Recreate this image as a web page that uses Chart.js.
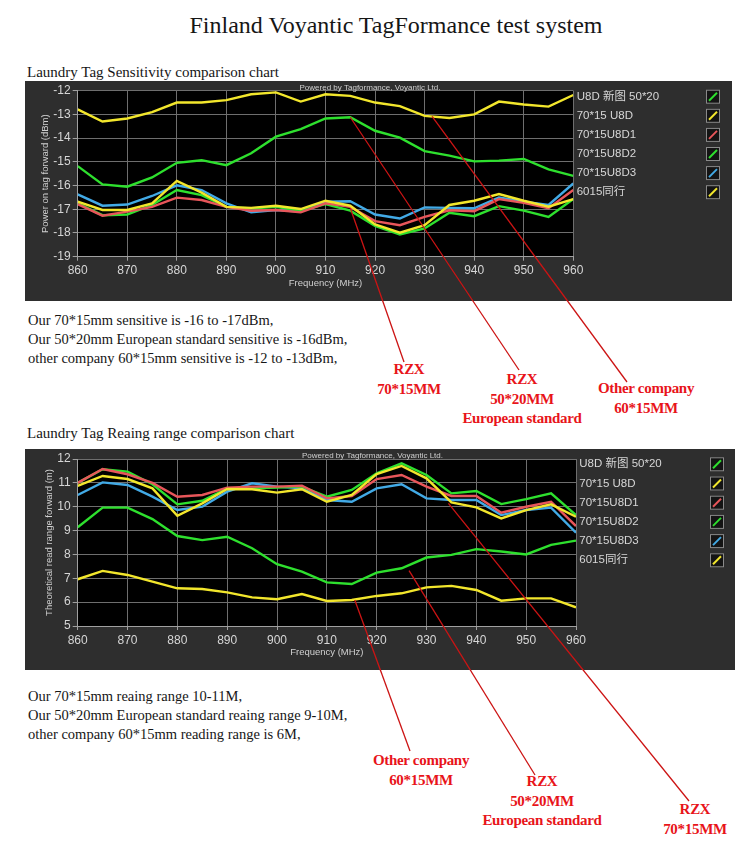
<!DOCTYPE html>
<html><head><meta charset="utf-8">
<script src="https://cdn.jsdelivr.net/npm/chart.js@4"></script>
<style>
body{margin:0;background:#fff;width:750px;height:851px;position:relative;overflow:hidden;}
.t{position:absolute;font-family:'Liberation Serif','DejaVu Serif',serif;color:#161616;white-space:nowrap;}
.r{position:absolute;font-family:'Liberation Serif',serif;font-weight:bold;color:#e8141a;white-space:nowrap;transform:translateX(-50%);text-align:center;font-size:15px;line-height:19.5px;letter-spacing:-0.3px;}
canvas{position:absolute;}
</style></head><body>
<div class="t" style="left:396px;top:11px;font-size:24px;line-height:28px;transform:translateX(-50%);">Finland Voyantic TagFormance test system</div>
<div class="t" style="left:27px;top:63px;font-size:15px;line-height:18px;">Laundry Tag Sensitivity comparison chart</div>
<canvas id="c1" width="707" height="220" style="left:25px;top:81px;background:#2e2e2e;"></canvas>
<div class="t" style="left:28px;top:310.5px;font-size:14.5px;line-height:19px;">Our 70*15mm sensitive is -16 to -17dBm,<br>Our 50*20mm European standard sensitive is -16dBm,<br>other company 60*15mm sensitive is -12 to -13dBm,</div>
<div class="t" style="left:27px;top:424px;font-size:15px;line-height:18px;">Laundry Tag Reaing range comparison chart</div>
<canvas id="c2" width="710" height="221" style="left:25px;top:449px;background:#2e2e2e;"></canvas>
<div class="t" style="left:28px;top:686.5px;font-size:14.5px;line-height:19px;">Our 70*15mm reaing range 10-11M,<br>Our 50*20mm European standard reaing range 9-10M,<br>other company 60*15mm reading range is 6M,</div>

<div class="r" style="left:409px;top:360px;">RZX<br>70*15MM</div>
<div class="r" style="left:522px;top:370px;">RZX<br>50*20MM<br>European standard</div>
<div class="r" style="left:646px;top:379px;">Other company<br>60*15MM</div>
<div class="r" style="left:421px;top:751px;">Other company<br>60*15MM</div>
<div class="r" style="left:542px;top:772px;">RZX<br>50*20MM<br>European standard</div>
<div class="r" style="left:695px;top:800px;">RZX<br>70*15MM</div>
<canvas id="ov" width="750" height="851" style="left:0;top:0;pointer-events:none;"></canvas>
<script>
// ---- data ----
const freqs = [860,865,870,875,880,885,890,895,900,905,910,915,920,925,930,935,940,945,950,955,960];
const seriesNames = ['U8D 新图 50*20','70*15 U8D','70*15U8D1','70*15U8D2','70*15U8D3','6015同行'];
const seriesColors = ['#2ee02e','#f2e62c','#e8565a','#2ee02e','#42aae6','#f2e62c'];
const xTicks = [860,960,10];

const sens5020 = [-15.18,-15.95,-16.05,-15.66,-15.04,-14.93,-15.14,-14.64,-13.94,-13.62,-13.17,-13.12,-13.69,-13.98,-14.55,-14.74,-14.98,-14.95,-14.88,-15.32,-15.59];
const sensU8D  = [-16.68,-17.03,-17.03,-16.75,-15.8,-16.3,-16.9,-16.94,-16.85,-16.99,-16.64,-16.85,-17.64,-17.99,-17.67,-16.82,-16.64,-16.36,-16.64,-16.89,-16.57];
const sensU8D1 = [-16.78,-17.27,-17.1,-16.9,-16.51,-16.61,-16.9,-17.06,-17.03,-17.13,-16.75,-16.9,-17.5,-17.67,-17.32,-17.04,-17.08,-16.57,-16.73,-16.96,-16.19];
const sensU8D2 = [-16.75,-17.25,-17.22,-16.82,-16.19,-16.4,-16.9,-16.97,-16.9,-17.06,-16.78,-17.06,-17.7,-18.06,-17.81,-17.15,-17.29,-16.87,-17.06,-17.32,-16.57];
const sensU8D3 = [-16.37,-16.85,-16.8,-16.44,-15.99,-16.19,-16.75,-17.13,-17.03,-17.1,-16.68,-16.66,-17.22,-17.39,-16.92,-16.94,-16.96,-16.5,-16.68,-16.82,-15.91];
const sens6015 = [-12.79,-13.3,-13.17,-12.9,-12.5,-12.5,-12.4,-12.15,-12.07,-12.46,-12.15,-12.22,-12.5,-12.65,-13.06,-13.15,-13.0,-12.46,-12.58,-12.67,-12.18];

const range5020 = [9.14,9.96,9.96,9.48,8.77,8.6,8.74,8.26,7.59,7.28,6.83,6.76,7.24,7.42,7.87,7.98,8.22,8.12,8.0,8.4,8.58];
const rangeU8D  = [10.87,11.29,11.16,10.77,9.62,10.14,10.74,10.73,10.59,10.73,10.21,10.49,11.37,11.71,11.19,10.18,9.97,9.51,9.86,10.1,9.58];
const rangeU8D1 = [11.0,11.58,11.36,11.0,10.42,10.49,10.8,10.84,10.84,10.88,10.35,10.45,11.16,11.33,10.84,10.45,10.45,9.75,10.0,10.21,9.19];
const rangeU8D2 = [11.0,11.57,11.47,10.94,10.1,10.25,10.77,10.77,10.8,10.84,10.42,10.7,11.4,11.82,11.33,10.56,10.66,10.11,10.32,10.56,9.65];
const rangeU8D3 = [10.49,11.02,10.91,10.42,9.86,10.0,10.63,10.98,10.84,10.77,10.28,10.21,10.77,10.94,10.35,10.28,10.28,9.65,9.86,9.96,8.91];
const range6015 = [6.96,7.31,7.14,6.86,6.58,6.55,6.41,6.2,6.12,6.34,6.05,6.09,6.26,6.37,6.62,6.68,6.51,6.06,6.16,6.16,5.78];

// annotation anchors in data units [freq, value]
const notesTop = [[915,-16.95],[915,-13.12],[931.5,-13.08]];
const notesBottom = [[915.6,6.09],[926.5,7.32],[934.4,10.14]];

Chart.defaults.font.family = "'Liberation Sans','Noto Sans CJK SC',sans-serif";

const deco = {
  id:'deco',
  beforeDraw(chart){
    const a=chart.chartArea, c=chart.ctx;
    c.save(); c.fillStyle='#000'; c.fillRect(a.left,a.top,a.right-a.left,a.bottom-a.top); c.restore();
  },
  afterDraw(chart){
    const o=chart.options.plugins.deco, c=chart.ctx;
    c.save();
    c.fillStyle='#cfcfcf'; c.font="8px 'Liberation Sans',sans-serif"; c.textAlign='center'; c.textBaseline='middle';
    c.fillText('Powered by Tagformance, Voyantic Ltd.', o.pwx, o.pwy);
    c.font="11.5px 'Liberation Sans','Noto Sans CJK SC',sans-serif"; c.textAlign='left';
    chart.data.datasets.forEach((d,i)=>{
      const y=o.ly+i*o.step;
      c.fillStyle='#d6d6d6'; c.fillText(d.label,o.lx,y);
      c.fillStyle='#141414'; c.fillRect(o.bx,y-7,14,14);
      c.strokeStyle='#8a8a8a'; c.lineWidth=1; c.strokeRect(o.bx+0.5,y-6.5,13,13);
      c.strokeStyle=d.borderColor; c.lineWidth=2; c.beginPath(); c.moveTo(o.bx+3,y+4); c.lineTo(o.bx+11,y-4); c.stroke();
    });
    c.restore();
  }
};

function makeChart(id, series, cfg){
  return new Chart(document.getElementById(id),{
    type:'line',
    data:{datasets:series.map((s,i)=>({label:seriesNames[i],data:freqs.map((f,k)=>({x:f,y:s[k]})),borderColor:seriesColors[i],borderWidth:2.4,pointRadius:0,tension:0,fill:false}))},
    options:{
      responsive:false,animation:false,events:[],
      layout:{padding:{left:0,top:cfg.top,right:cfg.right,bottom:cfg.bottom}},
      plugins:{legend:{display:false},tooltip:{enabled:false},deco:cfg.deco},
      scales:{
        x:{type:'linear',min:xTicks[0],max:xTicks[1],
          ticks:{stepSize:xTicks[2],color:'#d6d6d6',font:{size:12},padding:3,maxRotation:0,autoSkip:false},
          grid:{color:'#6e6e6e',tickLength:4,tickColor:'#a0a0a0'},border:{color:'#a0a0a0'},
          title:{display:true,text:'Frequency (MHz)',color:'#d0d0d0',font:{size:9.5},padding:{top:0,bottom:1}},
          afterFit:s=>{s.height=33;}},
        y:{min:cfg.ymin,max:cfg.ymax,
          ticks:{stepSize:1,color:'#d6d6d6',font:{size:12},padding:2},
          grid:{color:'#6e6e6e',tickLength:5,tickColor:'#a0a0a0'},border:{color:'#a0a0a0'},
          title:{display:true,text:cfg.ytitle,color:'#d0d0d0',font:{size:9.5},padding:{top:cfg.ytp,bottom:0}},
          afterFit:s=>{s.width=52.7;}}
      }
    },
    plugins:[deco]
  });
}

const ch1 = makeChart('c1',[sens5020,sensU8D,sensU8D1,sensU8D2,sensU8D3,sens6015],
  {top:9.7,right:158.7,bottom:11.3,ymin:-19,ymax:-12,ytitle:'Power on tag forward (dBm)',ytp:15,
   deco:{pwx:345,pwy:6.5,lx:551.7,ly:15.7,step:19.1,bx:681}});
const ch2 = makeChart('c2',[range5020,rangeU8D,rangeU8D1,rangeU8D2,rangeU8D3,range6015],
  {top:10,right:159,bottom:11,ymin:5,ymax:12,ytitle:'Theoretical read range forward (m)',ytp:19,
   deco:{pwx:347.5,pwy:6.7,lx:554.3,ly:15.3,step:19.2,bx:685}});

// annotation leader lines
const ends1=[[404,362],[519,370],[627,382]];
const ends2=[[410,751],[535,775],[689,801]];
const ov=document.getElementById('ov').getContext('2d');
ov.strokeStyle='#cc1414'; ov.lineWidth=1.3;
function lead(chart,ox,oy,notes,ends){
  notes.forEach((n,i)=>{
    const x=ox+chart.scales.x.getPixelForValue(n[0]), y=oy+chart.scales.y.getPixelForValue(n[1]);
    ov.beginPath(); ov.moveTo(x,y); ov.lineTo(ends[i][0],ends[i][1]); ov.stroke();
  });
}
lead(ch1,25,81,notesTop,ends1);
lead(ch2,25,449,notesBottom,ends2);
</script>
</body></html>
